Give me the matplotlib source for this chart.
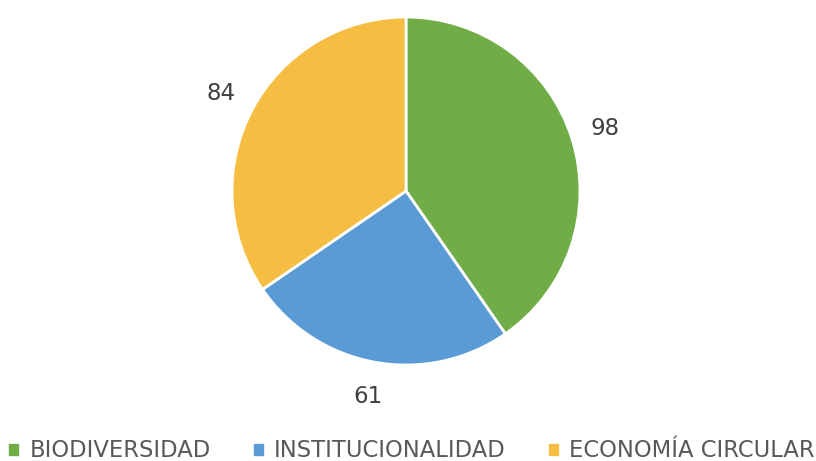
import matplotlib
matplotlib.use("Agg")
import matplotlib.pyplot as plt
from matplotlib.patches import Rectangle
from matplotlib import font_manager

categories = ["BIODIVERSIDAD", "INSTITUCIONALIDAD", "ECONOMÍA CIRCULAR"]
values = [98, 61, 84]
colors = ["#70AD47", "#5B9BD5", "#F5BE43"]

names = {f.name for f in font_manager.fontManager.ttflist}
legend_font = "Liberation Sans Narrow" if "Liberation Sans Narrow" in names else "DejaVu Sans"

fig = plt.figure(figsize=(8.16, 4.61), dpi=100)
ax = fig.add_axes([0.2843, 0.2082, 0.4265, 0.7549])
wedges, texts = ax.pie(values, colors=colors, startangle=90, counterclock=False,
                       labels=[str(v) for v in values], labeldistance=1.2,
                       wedgeprops=dict(edgecolor="white", linewidth=2))
for t in texts:
    t.set_fontsize(16.5)
    t.set_color("#404040")
    t.set_ha("center")
    t.set_va("center")
ax.set_aspect("equal")
ax.set_xlim(-1, 1)
ax.set_ylim(-1, 1)

handles = [Rectangle((0, 0), 1, 1, color=c) for c in colors]
leg = fig.legend(handles, categories, loc="center", bbox_to_anchor=(0.505, 0.022),
                 ncol=3, frameon=False, handlelength=0.4, handleheight=0.4,
                 handletextpad=0.5, columnspacing=1.9,
                 prop=dict(family=legend_font, size=16.3))
for t in leg.get_texts():
    t.set_color("#595959")

fig.savefig("out.png", dpi=100)
